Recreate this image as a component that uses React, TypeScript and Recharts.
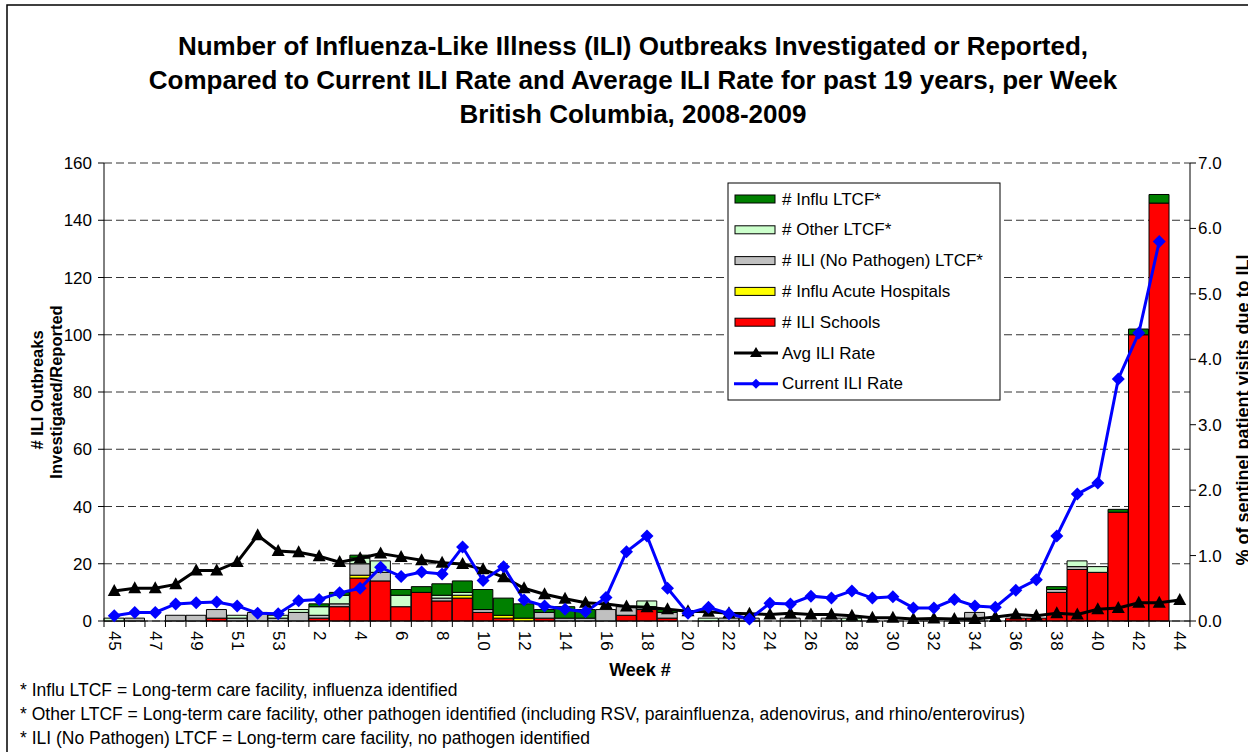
import React from "react";
import { ComposedChart, Bar, Line, XAxis, YAxis, CartesianGrid } from "recharts";

document.body.style.margin = "0";

const weeks = [
  "45", "46", "47", "48", "49", "50", "51", "52", "53", "1",
  "2", "3", "4", "5", "6", "7", "8", "9", "10", "11",
  "12", "13", "14", "15", "16", "17", "18", "19", "20", "21",
  "22", "23", "24", "25", "26", "27", "28", "29", "30", "31",
  "32", "33", "34", "35", "36", "37", "38", "39", "40", "41",
  "42", "43", "44",
];

const iliSchools = [
  0, 0, 0, 0, 0, 1, 0, 0, 0, 0,
  1, 5, 15, 14, 5, 10, 7, 8, 3, 1,
  0, 1, 0, 0, 0, 2, 4, 1, 0, 0,
  0, 0, 0, 0, 0, 0, 0, 0, 0, 0,
  0, 0, 0, 0, 1, 1, 10, 18, 17, 38,
  100, 146, 0,
];
const influHospitals = [
  0, 0, 0, 0, 0, 0, 0, 0, 0, 0,
  0, 0, 1, 0, 0, 0, 0, 1, 0, 1,
  1, 0, 0, 0, 0, 0, 0, 0, 0, 0,
  0, 0, 0, 0, 0, 0, 0, 0, 0, 0,
  0, 0, 0, 0, 0, 0, 0, 0, 0, 0,
  0, 0, 0,
];
const noPathogenLtcf = [
  0, 1, 0, 2, 2, 3, 1, 3, 1, 3,
  1, 1, 4, 3, 0, 0, 1, 0, 1, 0,
  0, 2, 1, 1, 4, 3, 1, 2, 0, 0,
  1, 1, 0, 1, 0, 1, 0, 0, 0, 0,
  0, 0, 3, 0, 0, 0, 1, 1, 0, 0,
  0, 0, 0,
];
const otherLtcf = [
  1, 0, 0, 0, 0, 0, 1, 0, 1, 1,
  3, 3, 2, 4, 4, 0, 1, 1, 0, 0,
  0, 0, 0, 0, 0, 0, 2, 0, 0, 1,
  0, 0, 0, 0, 0, 0, 1, 0, 0, 0,
  0, 0, 0, 0, 0, 0, 0, 2, 2, 0,
  0, 0, 0,
];
const influLtcf = [
  0, 0, 0, 0, 0, 0, 0, 0, 0, 0,
  1, 1, 1, 0, 2, 2, 4, 4, 7, 6,
  5, 1, 4, 3, 0, 0, 0, 1, 0, 0,
  0, 0, 0, 0, 0, 0, 0, 0, 0, 0,
  0, 0, 0, 0, 0, 0, 1, 0, 0, 1,
  2, 3, 0,
];
const avgIliRate = [
  0.46, 0.5, 0.5, 0.56, 0.77, 0.77, 0.9, 1.31, 1.07, 1.05,
  0.99, 0.9, 0.96, 1.03, 0.98, 0.93, 0.89, 0.87, 0.79, 0.67,
  0.5, 0.41, 0.34, 0.28, 0.26, 0.22, 0.21, 0.18, 0.15, 0.14,
  0.12, 0.11, 0.1, 0.12, 0.1, 0.1, 0.08, 0.05, 0.05, 0.03,
  0.04, 0.03, 0.03, 0.06, 0.1, 0.08, 0.12, 0.1, 0.18, 0.2,
  0.28, 0.28, 0.32,
];
const currentIliRate = [
  0.08, 0.13, 0.13, 0.26, 0.28, 0.29, 0.23, 0.12, 0.11, 0.31,
  0.33, 0.43, 0.5, 0.82, 0.68, 0.75, 0.72, 1.13, 0.62, 0.83,
  0.32, 0.23, 0.18, 0.14, 0.36, 1.06, 1.3, 0.5, 0.12, 0.21,
  0.11, 0.03, 0.27, 0.26, 0.38, 0.35, 0.46, 0.35, 0.37, 0.2,
  0.2, 0.33, 0.23, 0.21, 0.47, 0.63, 1.3, 1.94, 2.11, 3.7,
  4.4, 5.8, null,
];

const leftTicks = [0, 20, 40, 60, 80, 100, 120, 140, 160];
const rightTicks = [0, 1, 2, 3, 4, 5, 6, 7];

const titleLines = [
  "Number of Influenza-Like Illness (ILI) Outbreaks Investigated or Reported,",
  "Compared to Current ILI Rate and Average ILI Rate for past 19 years, per Week",
  "British Columbia, 2008-2009",
];
const footnotes = [
  "* Influ LTCF = Long-term care facility, influenza identified",
  "* Other LTCF = Long-term care facility, other pathogen identified (including RSV, parainfluenza, adenovirus, and rhino/enterovirus)",
  "* ILI (No Pathogen) LTCF = Long-term care facility, no pathogen identified",
];

const barSeries = [
  { key: "schools", name: "# ILI Schools", color: "#FF0000" },
  { key: "hospitals", name: "# Influ Acute Hospitals", color: "#FFFF00" },
  { key: "noPathogen", name: "# ILI (No Pathogen) LTCF*", color: "#C0C0C0" },
  { key: "other", name: "# Other LTCF*", color: "#CCFFCC" },
  { key: "influ", name: "# Influ LTCF*", color: "#008000" },
];

const data = weeks.map((w, i) => ({
  week: w,
  schools: iliSchools[i],
  hospitals: influHospitals[i],
  noPathogen: noPathogenLtcf[i],
  other: otherLtcf[i],
  influ: influLtcf[i],
  avg: avgIliRate[i],
  current: currentIliRate[i],
}));

const FONT = '"Liberation Sans", Arial, sans-serif';
const W = 1248;
const H = 752;
const PLOT_LEFT = 104;
const PLOT_RIGHT = 1190;
const PLOT_TOP = 163;
const PLOT_BOTTOM = 621;
const BAND = (PLOT_RIGHT - PLOT_LEFT) / weeks.length;

const XTick = (props: any) => {
  const { x, y, payload, index } = props;
  const half = BAND / 2;
  return (
    <g>
      <line x1={x - half} x2={x - half} y1={y} y2={y + 6} stroke="#000" />
      {index === weeks.length - 1 && (
        <line x1={x + half} x2={x + half} y1={y} y2={y + 6} stroke="#000" />
      )}
      {index % 2 === 0 && (
        <text
          x={x}
          y={y + 10}
          transform={`rotate(90 ${x} ${y + 10})`}
          textAnchor="start"
          dominantBaseline="central"
          fontSize={17}
          letterSpacing={0.8}
          fontFamily={FONT}
          fill="#000"
        >
          {payload.value}
        </text>
      )}
    </g>
  );
};

const TriangleDot = (p: any) => {
  const { cx, cy, index } = p;
  if (cx == null || cy == null) return <g key={`t${index}`} />;
  return (
    <path key={`t${index}`} d={`M${cx},${cy - 7} L${cx + 6.5},${cy + 5} L${cx - 6.5},${cy + 5} Z`} fill="#000" />
  );
};

const DiamondDot = (p: any) => {
  const { cx, cy, index } = p;
  if (cx == null || cy == null) return <g key={`d${index}`} />;
  return (
    <path key={`d${index}`} d={`M${cx},${cy - 6.5} L${cx + 6.5},${cy} L${cx},${cy + 6.5} L${cx - 6.5},${cy} Z`} fill="#0000FF" />
  );
};

const legendItems = [
  ...barSeries.slice().reverse().map((s) => ({ name: s.name, color: s.color, kind: "bar" })),
  { name: "Avg ILI Rate", color: "#000000", kind: "avg" },
  { name: "Current ILI Rate", color: "#0000FF", kind: "current" },
];

function Overlay() {
  const lx = 728;
  const ly = 183;
  return (
    <svg
      width={W}
      height={H}
      style={{ position: "absolute", left: 0, top: 0, pointerEvents: "none" }}
      fontFamily={FONT}
    >
      <rect x={7} y={5} width={W + 20} height={H + 20} fill="none" stroke="#000" strokeWidth={1.5} />
      {titleLines.map((t, i) => (
        <text key={t} x={633} y={54.5 + i * 34} textAnchor="middle" fontSize={26} fontWeight="bold" fill="#000">
          {t}
        </text>
      ))}
      <text
        x={37}
        y={390}
        transform="rotate(-90 37 390)"
        textAnchor="middle"
        dominantBaseline="central"
        fontSize={16.5}
        fontWeight="bold"
      >
        # ILI Outbreaks
      </text>
      <text
        x={56}
        y={392}
        transform="rotate(-90 56 392)"
        textAnchor="middle"
        dominantBaseline="central"
        fontSize={16.5}
        fontWeight="bold"
      >
        Investigated/Reported
      </text>
      <text
        x={1243}
        y={410}
        transform="rotate(-90 1243 410)"
        textAnchor="middle"
        dominantBaseline="central"
        fontSize={18}
        fontWeight="bold"
      >
        % of sentinel patient visits due to ILI
      </text>
      <text x={640} y={676} textAnchor="middle" fontSize={18} fontWeight="bold">
        Week #
      </text>
      {footnotes.map((f, i) => (
        <text key={f} x={20} y={696 + i * 24} fontSize={17.5}>
          {f}
        </text>
      ))}
      <rect x={lx} y={ly} width={272} height={217} fill="#fff" stroke="#000" />
      {legendItems.map((it, i) => {
        const cy = ly + 16 + i * 30.8;
        return (
          <g key={it.name}>
            {it.kind === "bar" ? (
              <rect x={lx + 7} y={cy - 4} width={40} height={8} fill={it.color} stroke="#000" />
            ) : (
              <g>
                <line x1={lx + 6} x2={lx + 50} y1={cy} y2={cy} stroke={it.color} strokeWidth={3} />
                {it.kind === "avg" ? (
                  <path d={`M${lx + 28},${cy - 6} L${lx + 34},${cy + 4} L${lx + 22},${cy + 4} Z`} fill="#000" />
                ) : (
                  <path d={`M${lx + 28},${cy - 5} L${lx + 33},${cy} L${lx + 28},${cy + 5} L${lx + 23},${cy} Z`} fill="#0000FF" />
                )}
              </g>
            )}
            <text x={lx + 54} y={cy} dominantBaseline="central" fontSize={17}>
              {it.name}
            </text>
          </g>
        );
      })}
    </svg>
  );
}

export default function App() {
  return (
    <div style={{ position: "relative", width: W, height: H, background: "#fff", fontFamily: FONT }}>
      <ComposedChart
        width={W}
        height={H}
        data={data}
        margin={{ top: PLOT_TOP, right: W - PLOT_RIGHT - 58, bottom: H - PLOT_BOTTOM - 40, left: PLOT_LEFT - 104 }}
        barCategoryGap={0}
        barGap={0}
      >
        <CartesianGrid yAxisId="left" vertical={false} stroke="#333" strokeDasharray="8 4" />
        <XAxis
          dataKey="week"
          interval={0}
          height={40}
          tickLine={false}
          tickSize={0}
          tickMargin={0}
          axisLine={{ stroke: "#000" }}
          tick={<XTick />}
        />
        <YAxis
          yAxisId="left"
          width={104}
          domain={[0, 160]}
          ticks={leftTicks}
          interval={0}
          tickSize={6}
          tickMargin={6}
          axisLine={{ stroke: "#000" }}
          tickLine={{ stroke: "#000" }}
          tick={{ fontSize: 17, fill: "#000", fontFamily: FONT }}
        />
        <YAxis
          yAxisId="right"
          orientation="right"
          width={58}
          domain={[0, 7]}
          ticks={rightTicks}
          interval={0}
          tickSize={6}
          tickMargin={2}
          tickFormatter={(v: number) => v.toFixed(1)}
          axisLine={{ stroke: "#000" }}
          tickLine={{ stroke: "#000" }}
          tick={{ fontSize: 17, fill: "#000", fontFamily: FONT, textAnchor: "start" }}
        />
        {barSeries.map((s) => (
          <Bar
            key={s.key}
            yAxisId="left"
            dataKey={s.key}
            name={s.name}
            stackId="outbreaks"
            fill={s.color}
            stroke="#000"
            strokeWidth={1}
            isAnimationActive={false}
          />
        ))}
        <Line
          yAxisId="right"
          dataKey="avg"
          name="Avg ILI Rate"
          stroke="#000"
          strokeWidth={3}
          dot={TriangleDot}
          activeDot={false}
          isAnimationActive={false}
        />
        <Line
          yAxisId="right"
          dataKey="current"
          name="Current ILI Rate"
          stroke="#0000FF"
          strokeWidth={3}
          dot={DiamondDot}
          activeDot={false}
          isAnimationActive={false}
        />
      </ComposedChart>
      <Overlay />
    </div>
  );
}
